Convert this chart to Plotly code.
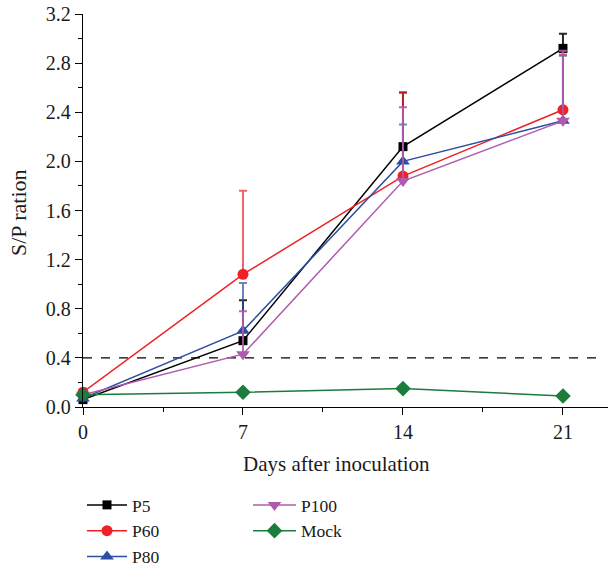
import plotly.graph_objects as go

days = [0, 7, 14, 21]
p5 = [0.06, 0.54, 2.12, 2.92]
p5_err = [0.03, 0.33, 0.44, 0.12]
p60 = [0.12, 1.08, 1.88, 2.42]
p60_err = [0.03, 0.68, 0.68, 0.45]
p80 = [0.07, 0.62, 2.00, 2.33]
p80_err = [0.03, 0.39, 0.30, 0.53]
p100 = [0.10, 0.43, 1.84, 2.33]
p100_err = [0.03, 0.35, 0.60, 0.57]
mock = [0.10, 0.12, 0.15, 0.09]
mock_err = [0.0, 0.0, 0.0, 0.0]
cutoff = 0.4

series = [
    ("P5", p5, p5_err, "#000000", "rgba(0,0,0,0.85)", "square", 9, "legend"),
    ("P60", p60, p60_err, "#ee2226", "rgba(238,34,38,0.7)", "circle", 11, "legend"),
    ("P80", p80, p80_err, "#2d4ea2", "rgba(45,78,162,0.7)", "triangle-up", 12, "legend"),
    ("P100", p100, p100_err, "#b05aad", "rgba(176,90,173,0.9)", "triangle-down", 12, "legend2"),
    ("Mock", mock, mock_err, "#1b7c3d", "rgba(27,124,61,0.8)", "diamond", 12, "legend2"),
]

fig = go.Figure()
for name, vals, err, col, ecol, sym, size, leg in series:
    fig.add_trace(go.Scatter(
        x=days, y=vals, name=name, mode="lines+markers",
        line=dict(color=col, width=1.5),
        marker=dict(symbol=sym, size=size, color=col),
        error_y=dict(type="data", symmetric=False, array=err,
                     arrayminus=[0] * len(err), color=ecol, thickness=2, width=4,
                     visible=any(e > 0 for e in err)),
        cliponaxis=False, legend=leg,
    ))

fig.add_shape(type="line", x0=0, x1=22.7, y0=cutoff, y1=cutoff, xref="x", yref="y",
              line=dict(color="black", width=1.3, dash="dash"), layer="below")

W, H = 611, 569
font = "Liberation Serif"
fig.update_layout(
    width=W, height=H,
    margin=dict(l=83, r=3, t=14, b=162, autoexpand=False),
    paper_bgcolor="white", plot_bgcolor="white",
    font=dict(family=font, size=20, color="#1a1a1a"),
    showlegend=True,
    legend=dict(xref="container", yref="container", x=82 / W, y=1 - 487 / H,
                xanchor="left", yanchor="top", itemwidth=40,
                font=dict(size=17.5), bgcolor="rgba(0,0,0,0)", tracegroupgap=0),
    legend2=dict(xref="container", yref="container", x=248 / W, y=1 - 487 / H,
                 xanchor="left", yanchor="top", itemwidth=43,
                 font=dict(size=17.5), bgcolor="rgba(0,0,0,0)", tracegroupgap=0),
    annotations=[
        dict(text="Days after inoculation", xref="paper", yref="paper",
             x=(336 - 83) / 525, y=(407 - 464) / 393, xanchor="center", yanchor="middle",
             showarrow=False, font=dict(size=21)),
        dict(text="S/P ration", xref="paper", yref="paper",
             x=(19 - 83) / 525, y=(407 - 213) / 393, xanchor="center", yanchor="middle",
             textangle=-90, showarrow=False, font=dict(size=22)),
    ],
)
fig.update_xaxes(
    range=[0, 22.97], tickvals=days, ticktext=[str(d) for d in days],
    showline=True, linecolor="black", linewidth=1.3, ticks="outside", ticklen=7,
    tickwidth=1.3, tickcolor="black", showgrid=False, zeroline=False, automargin=False,
    minor=dict(tickvals=[3.5, 10.5, 17.5], ticks="outside", ticklen=4,
               tickwidth=1.3, tickcolor="black", showgrid=False),
    tickfont=dict(size=20),
)
fig.update_yaxes(
    range=[0, 3.2], tickvals=[0, 0.4, 0.8, 1.2, 1.6, 2.0, 2.4, 2.8, 3.2],
    ticktext=["0.0", "0.4", "0.8", "1.2", "1.6", "2.0", "2.4", "2.8", "3.2"],
    showline=True, linecolor="black", linewidth=1.3, ticks="outside", ticklen=7,
    tickwidth=1.3, tickcolor="black", showgrid=False, zeroline=False, automargin=False,
    minor=dict(tickvals=[0.2, 0.6, 1.0, 1.4, 1.8, 2.2, 2.6, 3.0], ticks="outside",
               ticklen=4, tickwidth=1.3, tickcolor="black", showgrid=False),
    tickfont=dict(size=20),
)

fig.write_html(
    "out.html",
    config={"displayModeBar": False},
    post_script="document.body.style.margin='0';document.body.style.overflow='hidden';",
)
